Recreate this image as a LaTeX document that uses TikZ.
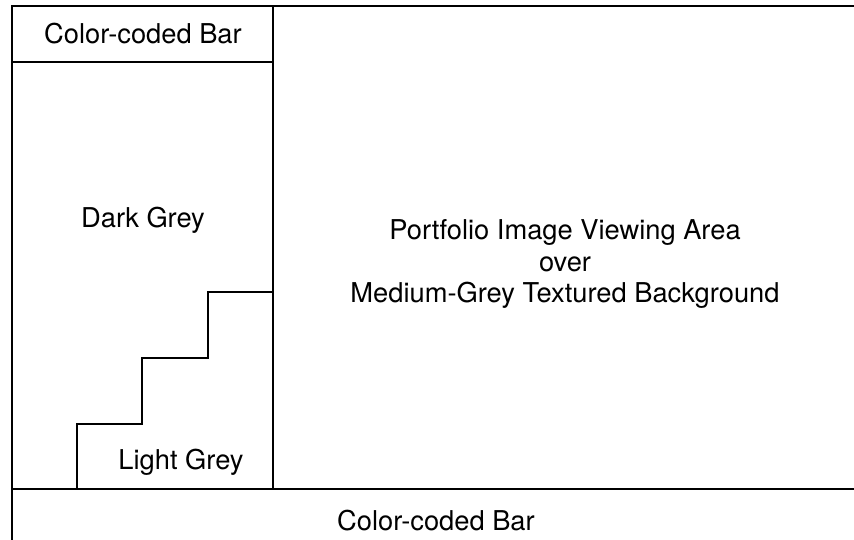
\documentclass[tikz,border=0pt]{standalone}
\usepackage{fontspec}
\setmainfont{TeX Gyre Heros}
\begin{document}
\begin{tikzpicture}[x=1pt,y=-1pt,
  rule/.style={line width=2pt,black},
  label/.style={font=\fontsize{27.3}{32}\selectfont,inner sep=0pt,anchor=center}]
\useasboundingbox (0,0) rectangle (854,540);
% outer frame: left edge, top edge and bottom bar
\draw[rule] (12,540) -- (12,6) -- (854,6);
\draw[rule] (12,489) -- (854,489);
% side panel
\draw[rule] (273,6) -- (273,489);
\draw[rule] (12,62) -- (273,62);
% staircase boundary between the dark and light regions
\draw[rule] (273,292) -- (208,292) -- (208,358) -- (142,358) -- (142,424)
  -- (77,424) -- (77,489);
% texts
\node[label] (topbar) at (143,34) {Color-coded Bar};
\node[label] (dark) at (143,220) {Dark Grey};
\node[label] (light) at (181,462) {Light Grey};
\node[label] (view) at (565,232) {Portfolio Image Viewing Area};
\node[label] (over) at (565,264) {over};
\node[label] (bg) at (565,295) {Medium-Grey Textured Background};
\node[label] (botbar) at (436,521) {Color-coded Bar};
\end{tikzpicture}
\end{document}
